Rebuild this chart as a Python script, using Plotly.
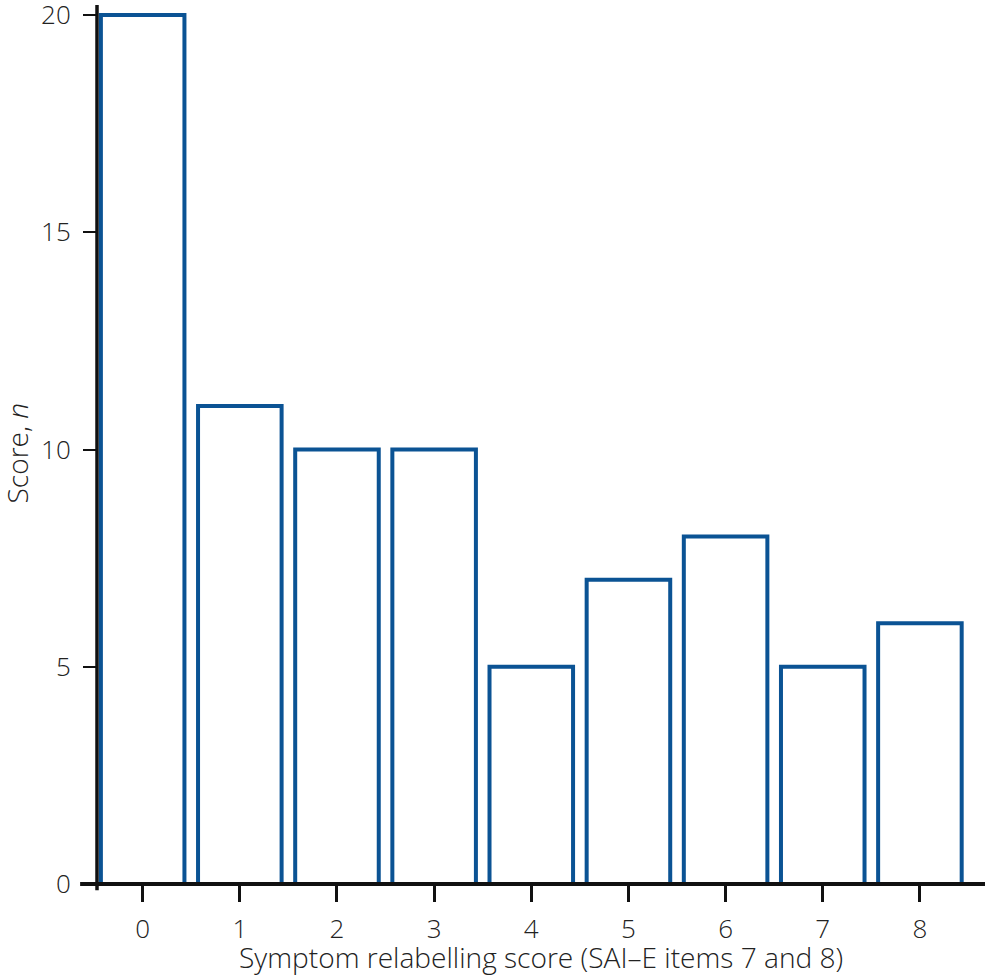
import plotly.graph_objects as go

categories = [0, 1, 2, 3, 4, 5, 6, 7, 8]
counts = [20, 11, 10, 10, 5, 7, 8, 5, 6]
y_ticks = [0, 5, 10, 15, 20]
x_title = "Symptom relabelling score (SAI–E items 7 and 8)"
y_title = "Score, <i>n</i>"

bar_color = "#0b5394"
font_family = "Open Sans, Noto Sans, sans-serif"
text_color = "#222222"
tick_size = 26
title_size = 28.1

fig = go.Figure(go.Bar(
    x=categories, y=counts, width=0.86,
    marker=dict(color="white", line=dict(color=bar_color, width=4)),
))

fig.update_layout(
    width=988, height=980,
    margin=dict(l=97, r=3, t=5, b=96),
    plot_bgcolor="white", paper_bgcolor="white",
    showlegend=False,
    font=dict(family=font_family, size=tick_size, color=text_color, weight=300),
    xaxis=dict(
        range=[-0.47, 8.67], tickmode="array", tickvals=categories,
        ticktext=[str(c) for c in categories],
        ticks="outside", ticklen=17, tickwidth=3, tickcolor="#111",
        showline=False, showgrid=False, zeroline=False,
        automargin=False,
        tickfont=dict(size=tick_size, color=text_color, weight=300),
        ticklabelstandoff=5,
    ),
    yaxis=dict(
        range=[0, 20.23], tickmode="array", tickvals=y_ticks,
        ticks="outside", ticklen=13, tickwidth=1.5, tickcolor="#111",
        showline=False, showgrid=False, zeroline=False,
        automargin=False,
        tickfont=dict(size=tick_size, color=text_color, weight=300),
        ticklabeloverflow="allow",
        ticklabelstandoff=7,
    ),
)

# axis titles
fig.add_annotation(text=x_title, xref="paper", yref="paper", x=0.5, y=0,
                   xanchor="center", yanchor="middle", yshift=-73, showarrow=False,
                   font=dict(size=title_size, color=text_color, weight=300))
fig.add_annotation(text=y_title, xref="paper", yref="paper", x=0, y=0.5,
                   xanchor="center", yanchor="middle", xshift=-81, yshift=-9,
                   textangle=-90, showarrow=False,
                   font=dict(size=title_size, color=text_color, weight=300))

# axis lines (extend slightly past the corner like the reference)
fig.add_shape(type="line", xref="paper", yref="paper", x0=-0.019, x1=1.0, y0=0, y1=0,
              line=dict(color="#111", width=4))
fig.add_shape(type="line", xref="paper", yref="paper", x0=0, x1=0, y0=-0.007, y1=1.0,
              line=dict(color="#111", width=3.5))

fig.write_html("out.html", config={"displayModeBar": False},
               post_script="document.body.style.margin='0';")
